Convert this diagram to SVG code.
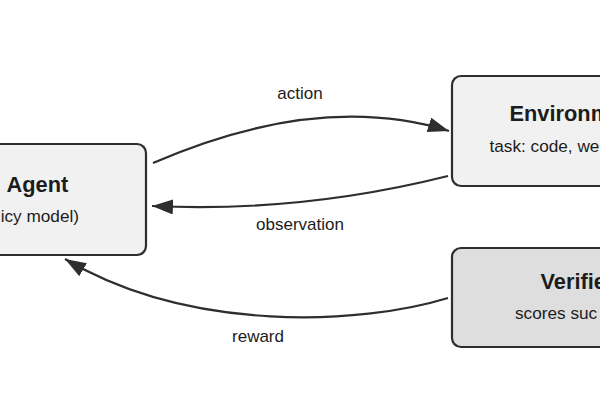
<svg xmlns="http://www.w3.org/2000/svg" width="600" height="400" viewBox="0 0 600 400">
<defs>
<style>
.node rect{stroke:#2e2e2e;stroke-width:2.2}
.n1 rect{fill:#f1f1f1}
.n2 rect{fill:#dedede}
.title{font-family:"Liberation Sans",Arial,sans-serif;font-weight:bold;font-size:21.8px;fill:#1c1c1c}
.sub{font-family:"Liberation Sans",Arial,sans-serif;font-size:17.2px;fill:#1c1c1c}
.lbl{font-family:"Liberation Sans",Arial,sans-serif;font-size:17px;fill:#1c1c1c;text-anchor:middle}
.edge{fill:none;stroke:#2e2e2e;stroke-width:2.2}
</style>
<marker id="arr" markerUnits="userSpaceOnUse" markerWidth="24" markerHeight="16" refX="21" refY="7.5" orient="auto">
<path d="M0,0 L21,7.5 L0,15 z" fill="#2e2e2e"/>
</marker>
</defs>
<rect width="600" height="400" fill="#ffffff"/>
<g id="agent" class="node n1">
<rect x="-100" y="144" width="246" height="111" rx="9"/>
<text class="title" x="68.3" y="192" text-anchor="end">Agent</text>
<text class="sub" x="79" y="222" text-anchor="end">icy model)</text>
</g>
<g id="environment" class="node n1">
<rect x="452" y="76" width="260" height="110" rx="9"/>
<text class="title" x="509.5" y="120.5">Environm</text>
<text class="sub" x="489.5" y="151.5">task: code, we</text>
</g>
<g id="verifier" class="node n2">
<rect x="452" y="248" width="260" height="99" rx="9"/>
<text class="title" x="540.5" y="289">Verifie</text>
<text class="sub" x="515" y="318.5">scores suc</text>
</g>
<g id="connectors">
<path class="edge" d="M153,163 Q319,91 449,131" marker-end="url(#arr)"/>
<path class="edge" d="M448,176 Q300,213 152,206" marker-end="url(#arr)"/>
<path class="edge" d="M448,298 C360,325 190,333 65,259" marker-end="url(#arr)"/>
<text class="lbl" x="300" y="99">action</text>
<text class="lbl" x="300" y="230">observation</text>
<text class="lbl" x="258" y="342">reward</text>
</g>
</svg>
